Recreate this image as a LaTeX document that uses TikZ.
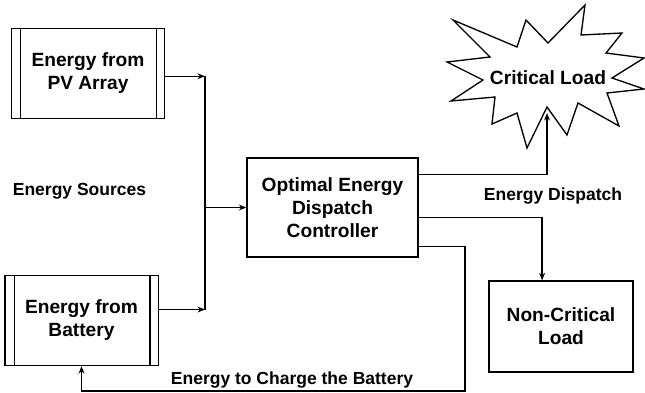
\documentclass[tikz,border=0pt]{standalone}
\usepackage{fontspec}
\setmainfont{Liberation Sans}
\usetikzlibrary{positioning,arrows.meta,calc}

\begin{document}
\begin{tikzpicture}[
    x=0.6pt, y=-0.6pt,
    every node/.style={font=\bfseries\fontsize{11.5}{13.8}\selectfont, align=center},
    block/.style={draw, line width=0.8pt, inner sep=2pt},
    srcbox/.style={block, minimum width=92pt, minimum height=54pt},
    lbl/.style={font=\bfseries\fontsize{10.5}{12.6}\selectfont},
    wire/.style={line width=0.8pt},
    flow/.style={wire, -{Stealth[length=4.5pt,width=3.5pt]}}
  ]
  \useasboundingbox (0,0) rectangle (645,393);

  \node[srcbox] (pv) at (88,73.5) {Energy from\\PV Array};
  \node[srcbox] (bat) at (81.5,320.5) {Energy from\\Battery};
  \node[block, minimum width=102.6pt, minimum height=59.4pt] (ctrl) at (332.5,207.5) {Optimal Energy\\Dispatch\\Controller};
  \node[block, minimum width=86.4pt, minimum height=54.6pt] (ncl) at (561,326.5) {Non-Critical\\Load};
  \node (crit) at (548,78) {Critical Load};

  % side bars of the source boxes
  \foreach \b in {pv,bat} {
    \draw[wire] ([xshift=6pt]\b.north west) -- ([xshift=6pt]\b.south west);
    \draw[wire] ([xshift=-5.4pt]\b.north east) -- ([xshift=-5.4pt]\b.south east);
  }

  % explosion outline round the critical load
  \draw[wire] (453,20) -- (517,47) -- (526,20) -- (548,43) -- (585,5) -- (581,35)
    -- (622,33) -- (606,53) -- (644,58) -- (612,78) -- (644,89) -- (607,93)
    -- (619,126) -- (578,103) -- (567,135) -- (547,107) -- (527,148) -- (517,113)
    -- (492,124) -- (495,97) -- (451,101) -- (483,80) -- (447,62) -- (490,57) -- cycle;

  \node[lbl] (src) at (79.5,191) {Energy Sources};
  \node[lbl] (disp) at (553,196) {Energy Dispatch};
  \node[lbl] (chglbl) at (292,380) {Energy to Charge the Battery};

  \coordinate (bus) at (205,207.5);
  \coordinate (pvout) at ($(pv.north east)!0.53!(pv.south east)$);
  \coordinate (batout) at ($(bat.north east)!0.38!(bat.south east)$);
  \coordinate (critin) at (547,113);
  \coordinate (chg) at (465,391);

  % sources into the controller
  \draw[flow] (pvout) -- (pvout -| bus);
  \draw[flow] (batout) -- (batout -| bus);
  \draw[wire] (pvout -| bus) -- (batout -| bus);
  \draw[flow] (bus) -- (ctrl.west);

  % dispatch
  \draw[flow] ($(ctrl.north east)!0.17!(ctrl.south east)$) -| (critin);
  \draw[flow] ($(ctrl.north east)!0.6!(ctrl.south east)$) -| ($(ncl.north west)!0.37!(ncl.north east)$);
  \draw[flow] ($(ctrl.north east)!0.89!(ctrl.south east)$) -| (chg) -| (bat.south);
\end{tikzpicture}
\end{document}
